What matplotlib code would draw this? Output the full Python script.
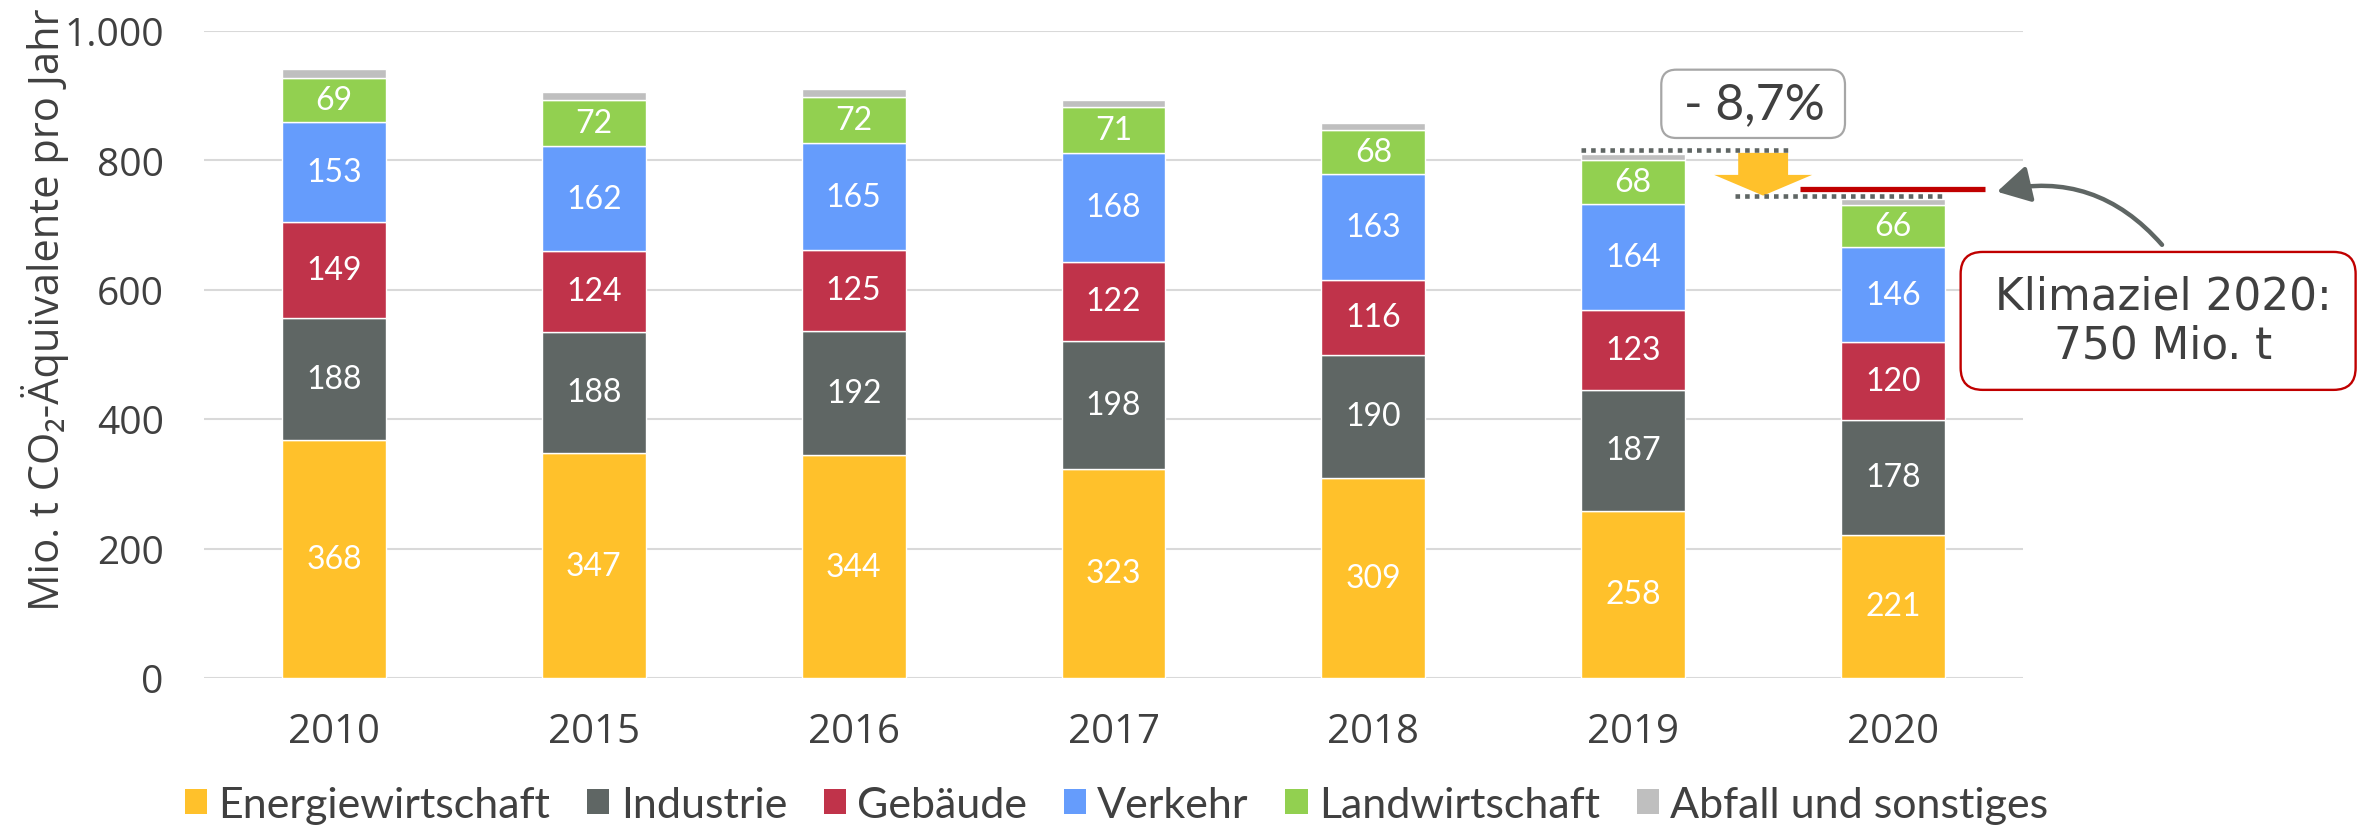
import matplotlib
matplotlib.use('Agg')
import matplotlib.pyplot as plt
from matplotlib.patches import Patch, FancyBboxPatch, FancyArrow
import numpy as np

# ---------------- data ----------------
years = ['2010', '2015', '2016', '2017', '2018', '2019', '2020']
energie = [368, 347, 344, 323, 309, 258, 221]
industrie = [188, 188, 192, 198, 190, 187, 178]
gebaeude = [149, 124, 125, 122, 116, 123, 120]
verkehr = [153, 162, 165, 168, 163, 164, 146]
landwirtschaft = [69, 72, 72, 71, 68, 68, 66]
abfall = [14, 12, 11, 10, 11, 10, 9]

sector_names = ['Energiewirtschaft', 'Industrie', 'Gebäude', 'Verkehr',
                'Landwirtschaft', 'Abfall und sonstiges']
sector_colors = ['#FFC12B', '#5F6664', '#C0334A', '#659CFC', '#92D050', '#BFBFBF']
labelled = [True, True, True, True, True, False]

yticks = [0, 200, 400, 600, 800, 1000]
ytick_labels = ['0', '200', '400', '600', '800', '1.000']
ylabel = 'Mio. t CO₂-Äquivalente pro Jahr'
reduction_label = '- 8,7%'
target_label = 'Klimaziel 2020:\n750 Mio. t'
target_value = 750

# ---------------- style ----------------
TXT = '#404040'
NARROW = ['Lato', 'DejaVu Sans']
W, H, DPI = 2364, 829, 100
fig = plt.figure(figsize=(W / DPI, H / DPI), dpi=DPI)
ax_left, ax_bottom, ax_w, ax_h = 204 / W, 150 / H, 1819 / W, 647.5 / H
ax = fig.add_axes([ax_left, ax_bottom, ax_w, ax_h])

series = [energie, industrie, gebaeude, verkehr, landwirtschaft, abfall]
x = np.arange(len(years))
bw = 0.4
bottom = np.zeros(len(years))
for vals, col, lab in zip(series, sector_colors, labelled):
    vals = np.array(vals, dtype=float)
    ax.bar(x, vals, bw, bottom=bottom, color=col, edgecolor='white',
           linewidth=1.0, zorder=3)
    if lab:
        for xi, b, v in zip(x, bottom, vals):
            ax.text(xi, b + v / 2, f'{int(v)}', ha='center', va='center',
                    color='white', fontsize=23, family=NARROW, zorder=5)
    bottom = bottom + vals
totals = bottom

ax.set_xlim(-0.5, len(years) - 0.5)
ax.set_ylim(0, 1000)
ax.set_yticks(yticks, ytick_labels)
ax.set_xticks(x, years)
for s in ax.spines.values():
    s.set_visible(False)
ax.tick_params(axis='y', length=0, pad=29, labelsize=28, labelcolor=TXT)
ax.tick_params(axis='x', length=0, pad=24, labelsize=29, labelcolor=TXT)
for t in ax.get_yticklabels() + ax.get_xticklabels():
    t.set_family(['Open Sans', 'DejaVu Sans'])
ax.yaxis.grid(True, color='#D9D9D9', linewidth=1.5, zorder=0)
ax.set_axisbelow(True)

fig.text(45 / W, 1 - 310 / H, ylabel, rotation=90, ha='center', va='center',
         rotation_mode='anchor', fontsize=30, color=TXT,
         family=['Open Sans', 'DejaVu Sans'])

# ---------------- annotations ----------------
px_x = ax_w * W / (len(years))
px_y = ax_h * H / 1000.0
aspect = px_x / px_y

i19, i20 = 5, 6
dot_style = dict(color='#5F6664', lw=3.3, linestyle=(0, (1, 1.1)),
                 dash_capstyle='butt', zorder=6, clip_on=False)
ax.plot([i19 - bw / 2, i19 + 0.6], [totals[i19] + 6] * 2, **dot_style)
ax.plot([i20 - 0.61, i20 + bw / 2], [totals[i20] + 4] * 2, **dot_style)

# yellow reduction arrow
arr = FancyArrow(5.50, totals[i19] + 1, 0, -(totals[i19] + 1 - (totals[i20] + 5)),
                 width=0.192, head_width=0.377, head_length=32,
                 length_includes_head=True, color='#FFC12B', lw=0, zorder=5)
ax.add_patch(arr)

# red target line
ax.plot([5.642, 6.354], [target_value + 5] * 2, color='#C00000', lw=3.8,
        solid_capstyle='butt', zorder=6, clip_on=False)

# reduction box
b1 = FancyBboxPatch((5.108, 834), 0.707, 105.5,
                    boxstyle=f'round,pad=0,rounding_size={15 / px_x}',
                    mutation_aspect=aspect, facecolor='white',
                    edgecolor='#A6A6A6', lw=1.6, zorder=7, clip_on=False)
ax.add_patch(b1)
ax.text(5.465, 886, reduction_label, ha='center', va='center', fontsize=36,
        color=TXT, family=NARROW, zorder=8)

# target box
b2 = FancyBboxPatch((6.26, 445), 1.52, 213,
                    boxstyle=f'round,pad=0,rounding_size={22 / px_x}',
                    mutation_aspect=aspect, facecolor='white',
                    edgecolor='#C00000', lw=1.7, zorder=7, clip_on=False)
ax.add_patch(b2)
ax.text(7.04, 552, target_label, ha='center', va='center', fontsize=31.5,
        color=TXT, family=['DejaVu Sans'], linespacing=1.2, zorder=8,
        clip_on=False)

# grey curved arrow
ax.annotate('', xy=(6.40, 751), xytext=(7.035, 669), xycoords='data',
            textcoords='data', annotation_clip=False,
            arrowprops=dict(arrowstyle='-|>,head_length=0.8,head_width=0.45',
                            color='#5F6664', lw=3.2, shrinkA=0, shrinkB=0,
                            mutation_scale=25,
                            connectionstyle='arc3,rad=0.3'), zorder=8)

# ---------------- legend ----------------
handles = [Patch(facecolor=c, edgecolor='none') for c in sector_colors]
fig.legend(handles, sector_names, loc='center left',
           bbox_to_anchor=(185 / W, 1 - 806 / H), ncol=6, frameon=False,
           handlelength=0.52, handleheight=0.52,
           handletextpad=0.26, columnspacing=0.85, borderpad=0,
           borderaxespad=0, labelcolor=TXT,
           prop={'family': ['Lato', 'DejaVu Sans'], 'size': 31})

fig.savefig('out.png', dpi=DPI)
